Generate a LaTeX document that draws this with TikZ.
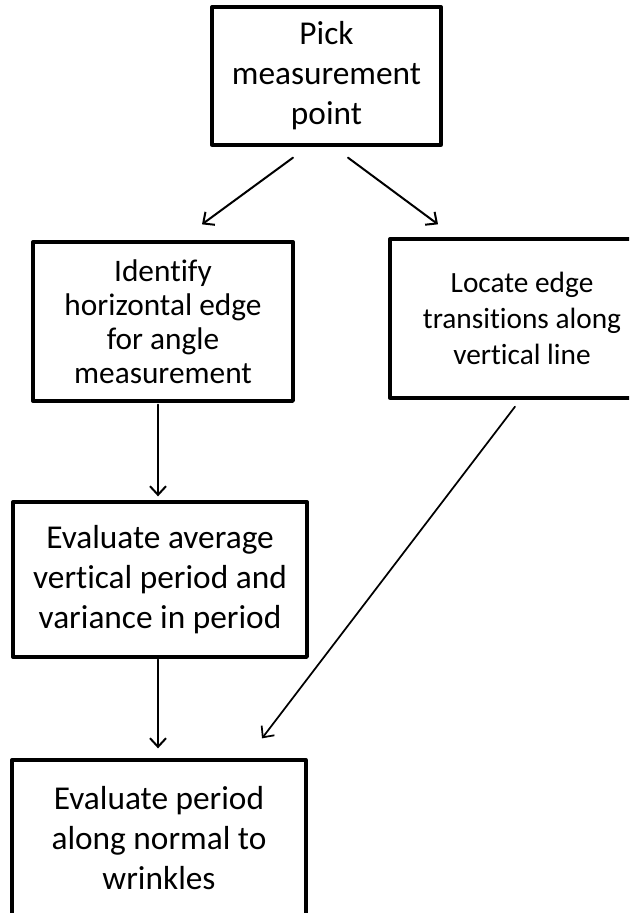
\documentclass[tikz,border=0pt]{standalone}
\usepackage{fontspec}
\setmainfont[Ligatures=NoCommon]{Carlito}
\usetikzlibrary{arrows.meta,calc}

\begin{document}
\begin{tikzpicture}[x=0.75pt, y=-0.75pt,
  >={Straight Barb[length=6.5pt,width=12pt]},
  line cap=round, line join=round,
  box/.style={draw, line width=2.5pt, align=center, inner sep=0pt,
    font=\fontsize{25}{30}\selectfont},
  flow/.style={->, line width=1.5pt}]

\clip (0,0) rectangle (629,913);

%==================================================
% Boxes
%==================================================
\node[box, minimum width=171.75pt, minimum height=103.5pt] (pick) at (326.5,76)
  {Pick\\measurement\\point};

\node[box, minimum width=195pt, minimum height=119.25pt,
  font=\fontsize{23.5}{25.5}\selectfont] (ident) at (163,321.5)
  {Identify\\horizontal edge\\for angle\\measurement};

\node[box, minimum width=198pt, minimum height=119.25pt,
  font=\fontsize{22}{27}\selectfont] (locate) at (522,318.5)
  {Locate edge\\transitions along\\vertical line};

\node[box, minimum width=220.5pt, minimum height=116.25pt] (avg) at (160,579.5)
  {Evaluate average\\vertical period and\\variance in period};

\node[box, minimum width=220.5pt, minimum height=117pt] (period) at (159,838)
  {Evaluate period\\along normal to\\wrinkles};

%==================================================
% Arrows
%==================================================
\draw[flow] ($(pick.south)+(-33.5,11)$) -- ($(ident.north)+(39,-16)$);
\draw[flow] ($(pick.south)+(21.5,11)$) -- ($(locate.north)+(-84,-13)$);

\draw[flow] ($(ident.south)+(-5,2)$) -- ($(avg.north)+(-2,-4)$);
\draw[flow] ($(avg.south)+(-2,1)$) -- ($(period.north)+(-1,-10)$);

% long diagonal one
\draw[flow, line width=1.3pt] ($(locate.south)+(-7,7)$) -- ($(period.north)+(103,-20)$);

\end{tikzpicture}
\end{document}
